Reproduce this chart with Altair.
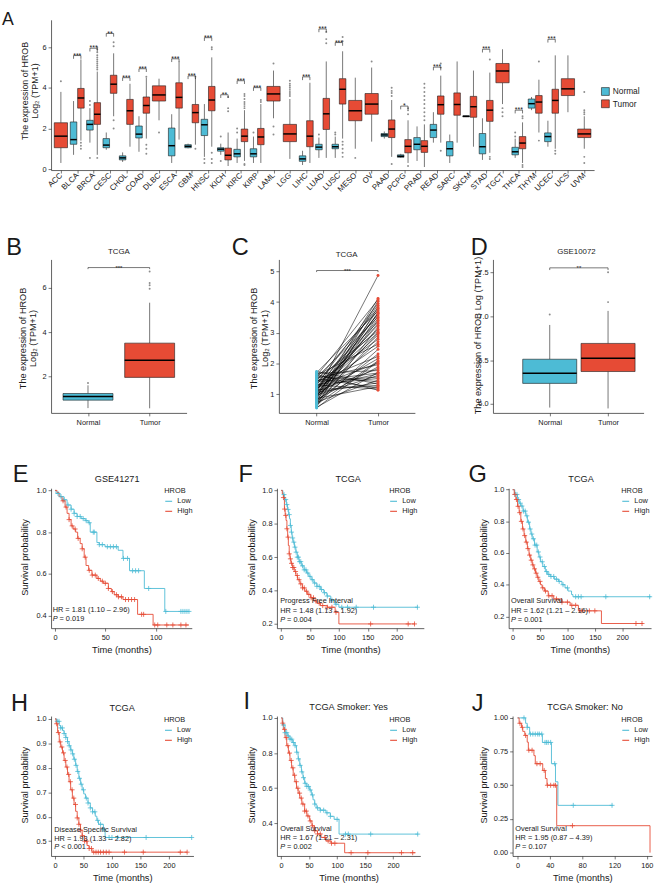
import altair as alt
import pandas as pd

FONT = "Liberation Sans"
NARROW = "Liberation Sans Narrow, Liberation Sans, Arial, sans-serif"
BLUE = "#4DBBD5"
RED = "#E64B35"
INK = "#1a1a1a"
CROSS = "M-1,0L1,0M0,-1L0,1"

# ---------------- Panel A : pan-cancer expression ----------------
CANCERS = ["ACC", "BLCA", "BRCA", "CESC", "CHOL", "COAD", "DLBC", "ESCA", "GBM", "HNSC",
           "KICH", "KIRC", "KIRP", "LAML", "LGG", "LIHC", "LUAD", "LUSC", "MESO", "OV",
           "PAAD", "PCPG", "PRAD", "READ", "SARC", "SKCM", "STAD", "TGCT", "THCA", "THYM",
           "UCEC", "UCS", "UVM"]
# [lower whisker, Q1, median, Q3, upper whisker]
NORMAL_STATS = {
    "BLCA": [0.70, 1.22, 1.45, 2.32, 3.35], "BRCA": [1.30, 1.92, 2.20, 2.40, 3.00],
    "CESC": [0.95, 1.05, 1.18, 1.50, 1.80], "CHOL": [0.35, 0.45, 0.55, 0.65, 0.82],
    "COAD": [0.85, 1.53, 1.72, 2.12, 2.60], "ESCA": [0.30, 0.65, 1.15, 2.02, 2.70],
    "GBM": [1.02, 1.05, 1.12, 1.20, 1.25], "HNSC": [0.60, 1.65, 2.18, 2.45, 3.20],
    "KICH": [0.70, 0.88, 0.98, 1.05, 1.25], "KIRC": [0.30, 0.60, 0.75, 0.97, 1.50],
    "KIRP": [0.30, 0.60, 0.75, 1.00, 1.60], "LIHC": [0.20, 0.38, 0.50, 0.65, 0.90],
    "LUAD": [0.55, 0.95, 1.08, 1.22, 1.55], "LUSC": [0.55, 1.00, 1.10, 1.22, 1.60],
    "PAAD": [1.50, 1.60, 1.68, 1.75, 1.85], "PCPG": [0.55, 0.58, 0.63, 0.70, 0.75],
    "PRAD": [0.40, 0.95, 1.22, 1.55, 2.10], "READ": [1.30, 1.55, 1.92, 2.20, 2.80],
    "SARC": [0.30, 0.65, 1.00, 1.35, 1.70], "SKCM": [2.56, 2.57, 2.60, 2.62, 2.63],
    "STAD": [0.45, 0.75, 1.10, 1.75, 2.50], "THCA": [0.55, 0.70, 0.85, 1.07, 1.50],
    "THYM": [2.90, 3.00, 3.22, 3.45, 3.55], "UCEC": [1.10, 1.35, 1.60, 1.78, 2.38],
}
TUMOR_STATS = {
    "ACC": [0.30, 1.05, 1.62, 2.28, 3.80], "BLCA": [1.40, 3.00, 3.50, 3.97, 5.40],
    "BRCA": [0.70, 2.20, 2.70, 3.27, 4.80], "CESC": [2.60, 3.73, 4.18, 4.62, 5.70],
    "CHOL": [1.10, 2.20, 2.87, 3.43, 4.20], "COAD": [1.50, 2.75, 3.13, 3.55, 4.50],
    "DLBC": [2.40, 3.35, 3.65, 4.10, 4.45], "ESCA": [1.45, 3.00, 3.53, 4.25, 5.30],
    "GBM": [1.20, 2.28, 2.78, 3.18, 4.50], "HNSC": [1.10, 2.87, 3.40, 4.07, 5.50],
    "KICH": [0.15, 0.45, 0.68, 1.03, 1.80], "KIRC": [0.40, 1.35, 1.62, 1.97, 2.90],
    "KIRP": [0.30, 1.20, 1.58, 2.00, 3.20], "LAML": [2.50, 3.35, 3.70, 4.07, 4.85],
    "LGG": [0.50, 1.35, 1.73, 2.20, 3.45], "LIHC": [0.30, 1.10, 1.62, 2.38, 4.25],
    "LUAD": [0.55, 1.95, 2.72, 3.48, 5.30], "LUSC": [1.50, 3.20, 3.93, 4.45, 5.80],
    "MESO": [1.00, 2.38, 2.87, 3.38, 4.50], "OV": [1.35, 2.70, 3.20, 3.72, 5.00],
    "PAAD": [0.60, 1.55, 1.97, 2.42, 3.40], "PCPG": [0.30, 0.80, 1.12, 1.45, 2.40],
    "PRAD": [0.10, 0.82, 1.12, 1.40, 2.20], "READ": [1.30, 2.70, 3.17, 3.60, 4.60],
    "SARC": [1.30, 2.65, 3.18, 3.75, 5.30], "SKCM": [1.10, 2.55, 3.07, 3.58, 4.85],
    "STAD": [0.80, 2.35, 2.90, 3.38, 4.75], "TGCT": [3.20, 4.25, 4.83, 5.20, 5.90],
    "THCA": [0.30, 1.00, 1.28, 1.60, 2.30], "THYM": [1.80, 2.75, 3.30, 3.62, 4.40],
    "UCEC": [1.00, 2.75, 3.38, 3.93, 5.60], "UCS": [2.80, 3.62, 3.95, 4.45, 5.60],
    "UVM": [1.00, 1.55, 1.73, 1.97, 2.60],
}
NORMAL_OUTLIERS = {
    "BRCA": [0.55, 3.15, 3.35], "HNSC": [0.30, 0.50], "KICH": [0.40, 1.60],
    "KIRC": [1.80, 2.00], "KIRP": [1.80], "LUAD": [1.70], "LUSC": [1.70, 1.80],
    "THCA": [1.60, 1.80],
}
TUMOR_OUTLIERS = {
    "ACC": [4.32], "BLCA": [1.00, 1.15, 1.30],
    "BRCA": [0.55, 4.9, 5.0, 5.1, 5.2, 5.3, 5.4, 5.5, 5.6, 5.75, 5.9, 6.0],
    "CESC": [2.00, 2.40, 6.05, 6.25], "COAD": [0.75, 1.00, 1.20, 4.55], "DLBC": [1.80],
    "GBM": [1.00, 4.55], "HNSC": [0.30, 0.50, 0.80, 5.90, 6.00], "KICH": [2.85, 3.00, 3.55],
    "KIRC": [0.20, 0.25, 3.0, 3.1, 3.2, 3.3, 3.45, 3.6, 3.7], "KIRP": [3.30, 3.40],
    "LAML": [1.70, 2.10, 5.20], "LGG": [3.6, 3.7, 3.8, 3.9, 4.0, 4.1, 4.2, 4.35],
    "LUAD": [6.20, 6.40, 6.75], "LUSC": [0.60, 0.80, 1.00, 1.20, 1.35, 6.30, 6.50],
    "MESO": [0.55], "OV": [5.30], "PAAD": [0.25, 3.60, 3.75, 3.85, 4.00],
    "PCPG": [0.15, 2.70, 2.90, 3.00],
    "PRAD": [2.4, 2.6, 2.8, 3.0, 3.2, 3.4, 3.6, 3.8, 4.0, 4.2], "READ": [0.90, 5.00, 5.20],
    "STAD": [0.50, 0.60, 5.40], "TGCT": [2.60, 2.80, 3.00], "THCA": [0.10, 0.20, 2.50, 2.60],
    "THYM": [1.40, 5.30], "UCEC": [0.75, 0.90], "UVM": [0.30, 0.60, 2.70, 2.80, 2.90, 3.80],
}
SIGNIF = {
    "BLCA": (5.59, "***"), "BRCA": (5.95, "***"), "CESC": (6.68, "**"), "CHOL": (4.50, "***"),
    "COAD": (4.94, "***"), "ESCA": (5.43, "***"), "GBM": (4.59, "***"), "HNSC": (6.47, "***"),
    "KICH": (3.66, "**"), "KIRC": (4.35, "***"), "KIRP": (4.01, "***"), "LIHC": (4.54, "***"),
    "LUAD": (6.90, "***"), "LUSC": (6.23, "***"), "PCPG": (3.10, "*"), "READ": (5.02, "***"),
    "STAD": (5.90, "***"), "THCA": (2.90, "***"), "UCEC": (6.39, "***"),
}

# ---------------- Panels B / C / D ----------------
GROUPS = ["Normal", "Tumor"]
B_STATS = {"Normal": [0.56, 0.92, 1.08, 1.22, 1.59], "Tumor": [0.55, 1.95, 2.73, 3.50, 5.33]}
B_OUTLIERS = {"Normal": [1.70], "Tumor": [5.96, 6.12, 6.22, 6.74]}
B_SIG = (6.92, "***")
C_NORMAL = [1.05, 0.90, 1.60, 0.75, 1.30, 1.12, 0.62, 1.45, 0.98, 1.70, 0.85, 1.20, 0.70, 1.55, 1.02,
            0.80, 1.38, 0.95, 1.15, 0.60, 1.25, 1.48, 0.88, 1.08, 0.72, 1.35, 0.92, 1.62, 1.18, 0.78,
            1.42, 1.00, 0.66, 1.28, 1.52, 0.83, 1.10, 1.68, 0.57, 1.22, 0.97, 1.40, 1.32, 0.74, 1.58,
            1.06, 1.74, 1.14, 0.86, 1.50, 1.30, 1.64, 0.68, 1.20, 0.94, 1.44, 0.55]
C_TUMOR = [4.87, 4.12, 4.08, 4.03, 3.96, 3.90, 3.84, 3.80, 3.75, 3.71, 3.66, 3.61, 3.56, 3.51, 3.46,
           3.41, 3.36, 3.31, 3.25, 3.19, 3.12, 3.06, 2.99, 2.93, 2.86, 2.79, 2.71, 2.63, 2.56, 2.31,
           2.23, 2.16, 2.09, 2.01, 1.96, 1.89, 1.83, 1.77, 1.71, 1.66, 1.61, 1.56, 1.51, 1.46, 1.41,
           1.37, 1.33, 1.29, 1.25, 1.21, 1.17, 1.13, 2.46, 3.01, 3.63, 1.69, 2.06]
C_SIG = (5.03, "***")
D_STATS = {"Normal": [5.96, 6.235, 6.35, 6.51, 6.90], "Tumor": [5.95, 6.37, 6.52, 6.69, 7.06]}
D_OUTLIERS = {"Normal": [7.02], "Tumor": [7.16, 7.50]}
D_SIG = (7.55, "**")

# ---------------- Survival panels (time in months, survival probability) ----------------
E_LOW = [(0, 1.0), (1, 0.985), (5, 0.97), (9, 0.955), (12, 0.93), (16, 0.91), (19, 0.89), (22, 0.875),
         (26, 0.865), (30, 0.855), (33, 0.845), (35, 0.80), (41.6, 0.75), (44, 0.74), (49.7, 0.73),
         (62.7, 0.713), (67.5, 0.674), (74, 0.615), (88.7, 0.53), (109, 0.42), (133, 0.42)]
E_HIGH = [(0, 1.0), (2, 0.99), (4, 0.97), (7, 0.95), (10, 0.92), (12, 0.89), (14, 0.86), (16, 0.83),
          (18, 0.815), (20.5, 0.80), (22.5, 0.77), (25, 0.745), (27, 0.72), (29, 0.68), (30.8, 0.64),
          (33.4, 0.617), (36.7, 0.594), (41.6, 0.578), (45, 0.565), (48, 0.555), (53, 0.53), (56, 0.515),
          (58.8, 0.50), (62.7, 0.49), (67.5, 0.477), (82, 0.406), (97.4, 0.355), (133, 0.355)]
E_LOW_CENS = [3, 6, 9, 13, 16, 19, 22, 25, 28, 31, 34, 38, 39, 44, 47, 52, 55, 58, 61, 68, 72, 77, 80,
              83, 93, 110, 125, 127, 129, 131, 133]
E_HIGH_CENS = [8, 11, 14, 17, 20, 23, 27, 30, 34, 37, 40, 43, 47, 50, 53, 57, 61, 63, 66, 70, 73, 76,
               79, 86, 88, 99, 102, 111, 117, 125, 130]

F_LOW = [(0, 1.0), (3, 0.975), (6, 0.945), (9, 0.915), (11, 0.886), (13, 0.855), (14.5, 0.83), (16, 0.79),
         (17.5, 0.75), (19, 0.715), (20.5, 0.69), (23, 0.66), (25.5, 0.63), (28, 0.60), (31, 0.573),
         (35, 0.548), (39.7, 0.524), (44, 0.505), (48, 0.485), (52, 0.465), (56.7, 0.445), (62, 0.425),
         (68, 0.406), (74, 0.387), (79.4, 0.367), (86, 0.342), (93.5, 0.318), (100, 0.30), (237, 0.30)]
F_HIGH = [(0, 1.0), (2, 0.98), (3.9, 0.957), (5.7, 0.888), (7, 0.85), (8.5, 0.82), (10, 0.77), (11.3, 0.72),
          (12.5, 0.67), (14, 0.62), (15.5, 0.59), (17, 0.563), (20, 0.538), (22.7, 0.514), (25.5, 0.49),
          (28.3, 0.465), (32.5, 0.44), (36.8, 0.416), (41, 0.396), (45.4, 0.377), (51, 0.357),
          (56.7, 0.338), (62, 0.324), (68, 0.31), (80, 0.30), (93.5, 0.27), (100, 0.20), (232, 0.20)]
F_LOW_CENS = [5, 8, 10, 12, 14, 16, 18, 20, 22, 24, 26, 28, 30, 32, 34, 37, 40, 43, 46, 50, 54, 58, 62,
              66, 70, 75, 80, 88, 95, 105, 115, 130, 160, 236]
F_HIGH_CENS = [4, 6, 8, 10, 12, 14, 16, 18, 20, 22, 25, 28, 31, 34, 37, 40, 44, 48, 52, 56, 60, 66, 72,
               80, 88, 95, 155, 220, 231]

G_LOW = [(0, 1.0), (4, 0.97), (9, 0.938), (12, 0.915), (15, 0.897), (19, 0.865), (24, 0.835), (27, 0.795),
         (31, 0.752), (33.5, 0.72), (35.8, 0.69), (40, 0.65), (44.8, 0.607), (48, 0.575), (50.8, 0.545),
         (55, 0.515), (59.7, 0.483), (64, 0.465), (68.7, 0.452), (76, 0.435), (83.6, 0.421), (90, 0.40),
         (95.6, 0.38), (101, 0.36), (107.5, 0.338), (110, 0.324), (252, 0.324)]
G_HIGH = [(0, 1.0), (3, 0.97), (6, 0.938), (9, 0.895), (12, 0.855), (15, 0.80), (18, 0.752), (21, 0.71),
          (24, 0.669), (27, 0.628), (30, 0.587), (33, 0.555), (35.8, 0.525), (38.8, 0.50), (41.8, 0.473),
          (44.8, 0.447), (47.8, 0.421), (50.8, 0.40), (53.8, 0.38), (58, 0.36), (65, 0.33), (75, 0.31),
          (90, 0.29), (105, 0.27), (120, 0.235), (162, 0.155), (238, 0.155)]
G_LOW_CENS = [5, 8, 11, 14, 17, 20, 23, 26, 29, 32, 35, 38, 41, 44, 47, 50, 54, 58, 62, 66, 70, 75, 80,
              85, 92, 100, 115, 120, 125, 170, 250]
G_HIGH_CENS = [4, 7, 10, 13, 16, 19, 22, 25, 28, 31, 34, 37, 40, 43, 46, 50, 55, 60, 66, 72, 80, 90,
               100, 108, 115, 125, 140, 150, 225, 236]

H_LOW = [(0, 1.0), (3, 0.99), (7.5, 0.973), (10, 0.963), (13.2, 0.953), (16, 0.94), (19, 0.924),
         (22, 0.907), (24.7, 0.89), (27.5, 0.873), (30.5, 0.857), (33, 0.835), (36.2, 0.81), (39, 0.785),
         (41.9, 0.757), (45, 0.733), (47.7, 0.71), (50.5, 0.693), (53.5, 0.676), (58, 0.656), (62, 0.636),
         (66, 0.62), (70.7, 0.602), (73.5, 0.585), (76.4, 0.569), (85, 0.549), (88, 0.515), (240, 0.515)]
H_HIGH = [(0, 1.0), (2, 0.98), (4.6, 0.944), (7.5, 0.906), (10, 0.885), (13.2, 0.861), (16, 0.83),
          (19, 0.803), (22, 0.773), (24.7, 0.743), (27.5, 0.71), (30.5, 0.676), (33.5, 0.65), (36.2, 0.622),
          (39, 0.595), (41.9, 0.569), (44.8, 0.545), (47.7, 0.522), (52, 0.50), (56.3, 0.482), (60, 0.47),
          (65, 0.455), (232, 0.455)]
H_LOW_CENS = [4, 7, 10, 13, 16, 19, 22, 25, 28, 31, 34, 37, 40, 43, 46, 50, 55, 58, 62, 66, 70, 75, 80,
              85, 95, 100, 110, 160, 240]
H_HIGH_CENS = [3, 6, 9, 12, 15, 18, 21, 24, 27, 30, 33, 36, 39, 42, 45, 48, 52, 56, 60, 64, 68, 72, 76,
               80, 85, 90, 95, 122, 155, 220, 232]

I_LOW = [(0, 1.0), (3, 0.96), (7, 0.916), (11, 0.897), (15.8, 0.879), (20, 0.86), (24.6, 0.842),
         (27.5, 0.805), (30.4, 0.767), (33.3, 0.73), (36.3, 0.693), (39, 0.66), (42, 0.628), (46, 0.61),
         (51, 0.59), (54, 0.562), (57, 0.534), (60, 0.51), (62.6, 0.488), (70, 0.475), (80, 0.46),
         (88, 0.44), (94.7, 0.423), (103.5, 0.339), (245, 0.339)]
I_HIGH = [(0, 1.0), (2, 0.97), (4, 0.935), (7, 0.888), (10, 0.842), (13, 0.80), (15.8, 0.758),
          (18.7, 0.716), (21.6, 0.674), (24.5, 0.637), (27.5, 0.60), (30.4, 0.572), (33.3, 0.544),
          (37, 0.51), (42, 0.47), (46, 0.442), (51, 0.414), (55, 0.386), (59.7, 0.358), (65, 0.34),
          (71.4, 0.32), (80, 0.30), (89, 0.287), (113.5, 0.233), (240, 0.233)]
I_LOW_CENS = [4, 7, 10, 13, 16, 19, 22, 25, 28, 31, 34, 37, 40, 43, 46, 49, 52, 56, 60, 65, 70, 76, 82,
              88, 100, 115, 120, 160, 244]
I_HIGH_CENS = [3, 6, 9, 12, 15, 18, 21, 24, 27, 30, 33, 36, 39, 42, 45, 48, 52, 56, 60, 65, 70, 78, 84,
               90, 96, 125, 155, 215, 235]

J_LOW = [(0, 1.0), (10, 0.96), (12, 0.93), (15, 0.88), (30.8, 0.818), (42, 0.66), (47, 0.526),
         (50, 0.351), (118, 0.351)]
J_HIGH = [(0, 1.0), (2, 0.96), (5, 0.93), (6.5, 0.90), (9, 0.87), (12, 0.82), (13.4, 0.76), (20.3, 0.72),
          (22, 0.66), (31.2, 0.61), (34.5, 0.55), (36.5, 0.50), (48.5, 0.20), (164, 0.0)]
J_LOW_CENS = [8, 12, 16, 19, 22, 25, 27, 30, 34, 36, 38, 41, 46, 69, 117]
J_HIGH_CENS = [3, 6, 10, 14, 18, 24, 28, 33, 37, 41, 45, 47, 68]


# ====================== helpers ======================
def one():
    return alt.Data(values=[{"k": 1}])


def cell(x1, x2, y1, y2):
    # invisible frame that fixes the panel's footprint in the figure grid
    return alt.Chart(one()).mark_rect(opacity=0).encode(
        x=alt.value(x1), x2=alt.value(x2), y=alt.value(y1), y2=alt.value(y2))


def txt(text, x, y, size, font=FONT, align="left", baseline="middle", italic=False, dy=0):
    return alt.Chart(one()).mark_text(
        text=text, align=align, baseline=baseline, font=font, fontSize=size,
        fontStyle="italic" if italic else "normal", color=INK, dy=dy
    ).encode(x=alt.value(x), y=alt.value(y))


def base_axis(**kw):
    d = dict(grid=False, tickSize=3, tickColor=INK, tickWidth=0.6, domainColor=INK, domainWidth=0.7,
             labelColor=INK, labelOverlap=False, labelFlush=False, titleColor=INK,
             titleFontWeight="normal")
    d.update(kw)
    return alt.Axis(**d)


def box_frame(stats, outliers, positions, half):
    rows, outs = [], []
    for key, xc in positions:
        if key not in stats:
            continue
        lo, q1, med, q3, hi = stats[key]
        rows.append(dict(key=key, xc=xc, xl=xc - half, xr=xc + half,
                         lo=lo, q1=q1, med=med, q3=q3, hi=hi))
        for v in outliers.get(key, []):
            outs.append(dict(key=key, xc=xc, v=v))
    return pd.DataFrame(rows), pd.DataFrame(outs, columns=["key", "xc", "v"])


def box_layers(bdf, odf, group_field, xs, ys, ax_x, ax_y, cscale, legend, med_w=1.6, out_size=3):
    X = lambda f: alt.X(f, type="quantitative", scale=xs, axis=ax_x)
    Y = lambda f: alt.Y(f, type="quantitative", scale=ys, axis=ax_y)
    layers = [
        alt.Chart(bdf).mark_rule(color=INK, strokeWidth=0.6).encode(x=X("xc"), y=Y("lo"), y2="q1"),
        alt.Chart(bdf).mark_rule(color=INK, strokeWidth=0.6).encode(x=X("xc"), y=Y("q3"), y2="hi"),
        alt.Chart(bdf).mark_rect(stroke=INK, strokeWidth=0.6).encode(
            x=X("xl"), x2="xr", y=Y("q1"), y2="q3",
            color=alt.Color(group_field, type="nominal", scale=cscale, legend=legend)),
        alt.Chart(bdf).mark_rule(color="#000000", strokeWidth=med_w).encode(x=X("xl"), x2="xr", y=Y("med")),
    ]
    if len(odf):
        layers.append(alt.Chart(odf).mark_circle(size=out_size, color="#8c8c8c", opacity=1).encode(
            x=X("xc"), y=Y("v")))
    return layers


def bracket_layers(sdf, xs, ys, ax_x, ax_y, tip, size):
    X = lambda f: alt.X(f, type="quantitative", scale=xs, axis=ax_x)
    Y = lambda f: alt.Y(f, type="quantitative", scale=ys, axis=ax_y)
    sdf = sdf.copy()
    sdf["tip"] = sdf["y"] - tip
    return [
        alt.Chart(sdf).mark_rule(color=INK, strokeWidth=0.6).encode(x=X("xl"), x2="xr", y=Y("y")),
        alt.Chart(sdf).mark_rule(color=INK, strokeWidth=0.6).encode(x=X("xl"), y=Y("y"), y2="tip"),
        alt.Chart(sdf).mark_rule(color=INK, strokeWidth=0.6).encode(x=X("xr"), y=Y("y"), y2="tip"),
        alt.Chart(sdf).mark_text(fontSize=size, font=FONT, color=INK, baseline="alphabetic", dy=2.2).encode(
            x=X("xm"), y=Y("y"), text="lab:N"),
    ]


GROUP_SCALE = alt.Scale(domain=GROUPS, range=[BLUE, RED])

# ====================== Panel A ======================
A_W, A_H = 553, 153
xsA = alt.Scale(domain=[-0.6, 32.6], nice=False, zero=False)
ysA = alt.Scale(domain=[-0.05, 7.35], nice=False, zero=False)
label_expr_A = "[" + ",".join("'%s'" % c for c in CANCERS) + "][datum.value]"
axAx = base_axis(values=list(range(len(CANCERS))), labelExpr=label_expr_A, labelAngle=315,
                 labelAlign="right", labelBaseline="middle", labelFont=FONT, labelFontSize=8,
                 labelPadding=1, title=None)
axAy = base_axis(values=[0, 2, 4, 6], format="d", labelFont=FONT, labelFontSize=7.5,
                 title=["The expression of HROB", "Log\u2082 (TPM+1)"], titleFont=FONT, titleFontSize=9,
                 titleX=-27, titleY=72, titleAngle=270, titleAlign="center", titleBaseline="middle",
                 titleLineHeight=10.5)

rowsA, outsA = [], []
for i, c in enumerate(CANCERS):
    paired = c in NORMAL_STATS
    for grp, stats, outl in (("Normal", NORMAL_STATS, NORMAL_OUTLIERS), ("Tumor", TUMOR_STATS, TUMOR_OUTLIERS)):
        if c not in stats:
            continue
        xc = (i - 0.225 if grp == "Normal" else i + 0.225) if paired else i
        half = 0.2 if paired else 0.405
        lo, q1, med, q3, hi = stats[c]
        rowsA.append(dict(cancer=c, grp=grp, xc=xc, xl=xc - half, xr=xc + half,
                          lo=lo, q1=q1, med=med, q3=q3, hi=hi))
        for v in outl.get(c, []):
            outsA.append(dict(cancer=c, grp=grp, xc=xc, v=v))
dfA = pd.DataFrame(rowsA)
dfAo = pd.DataFrame(outsA)
sigA = pd.DataFrame([dict(xl=CANCERS.index(c) - 0.225, xr=CANCERS.index(c) + 0.225,
                          xm=CANCERS.index(c), y=v[0], lab=v[1]) for c, v in SIGNIF.items()])

legendA = alt.Legend(orient="none", legendX=560, legendY=68.5, title=None, symbolType="square",
                     symbolSize=64, symbolStrokeColor=INK, symbolStrokeWidth=0.6, labelFont=FONT,
                     labelFontSize=8.5, labelColor=INK, rowPadding=1.5, labelOffset=3, padding=0)
panelA = alt.layer(
    cell(-52, 602, -12, 193),
    *box_layers(dfA, dfAo, "grp", xsA, ysA, axAx, axAy, GROUP_SCALE, legendA, med_w=1.5, out_size=4),
    *bracket_layers(sigA, xsA, ysA, axAx, axAy, tip=0.16, size=7),
    txt("A", -50, 5, 18, baseline="alphabetic"),
).properties(width=A_W, height=A_H)


# ====================== Panels B, C, D ======================
def xaxis_groups():
    return base_axis(values=[1, 2], labelExpr="['', '" + "', '".join(GROUPS) + "'][datum.value]",
                     labelFont=NARROW, labelFontSize=7.5, labelPadding=3, title=None)


def yaxis_bcd(values, fmt, title, tx, ty):
    return base_axis(values=values, format=fmt, labelFont=NARROW, labelFontSize=7.5, title=title,
                     titleFont=FONT, titleFontSize=9.3, titleX=tx, titleY=ty, titleAngle=270,
                     titleAlign="center", titleBaseline="middle", titleLineHeight=10.5)


H_ROW2 = 156.3
# B
xsB = alt.Scale(domain=[0.401, 2.599], nice=False, zero=False)
ysB = alt.Scale(domain=[0.342, 7.289], nice=False, zero=False)
axBx = xaxis_groups()
axBy = yaxis_bcd([2, 4, 6], "d", ["The expression of HROB", "Log\u2082 (TPM+1)"], -29.2, 80)
bB, oB = box_frame(B_STATS, B_OUTLIERS, [(g, i + 1) for i, g in enumerate(GROUPS)], 0.405)
sigB = pd.DataFrame([dict(xl=1, xr=2, xm=1.5, y=B_SIG[0], lab=B_SIG[1])])
panelB = alt.layer(
    cell(-49, 183, -51, 189),
    *box_layers(bB, oB, "key", xsB, ysB, axBx, axBy, GROUP_SCALE, None, med_w=1.5, out_size=4),
    *bracket_layers(sigB, xsB, ysB, axBx, axBy, tip=0.07, size=6),
    txt("TCGA", 69, -7.7, 8, font=NARROW, align="center"),
    txt("B", -45.7, -4.3, 24, baseline="alphabetic"),
).properties(width=138, height=H_ROW2)

# C
xsC = alt.Scale(domain=[0.386, 2.6], nice=False, zero=False)
ysC = alt.Scale(domain=[0.39, 5.392], nice=False, zero=False)
axCx = xaxis_groups()
axCy = yaxis_bcd([1, 2, 3, 4, 5], "d", ["The expression of HROB", "Log\u2082 (TPM+1)"], -25.5, 80)
pairs = []
for k, (n, t) in enumerate(zip(C_NORMAL, C_TUMOR)):
    pairs.append(dict(pair=k, pos=1, v=n, grp="Normal"))
    pairs.append(dict(pair=k, pos=2, v=t, grp="Tumor"))
dfC = pd.DataFrame(pairs)
sigC = pd.DataFrame([dict(xl=1, xr=2, xm=1.5, y=C_SIG[0], lab=C_SIG[1])])
XC = alt.X("pos:Q", scale=xsC, axis=axCx)
YC = alt.Y("v:Q", scale=ysC, axis=axCy)
panelC = alt.layer(
    cell(-47.5, 188.5, -51, 189),
    alt.Chart(dfC).mark_line(color="#000000", strokeWidth=0.55).encode(x=XC, y=YC, detail="pair:N"),
    alt.Chart(dfC).mark_circle(size=9, opacity=1).encode(
        x=XC, y=YC, color=alt.Color("grp:N", scale=GROUP_SCALE, legend=None)),
    *bracket_layers(sigC, xsC, ysC, axCx, axCy, tip=0.05, size=6),
    txt("TCGA", 69, -4.3, 8, font=NARROW, align="center"),
    txt("C", -48.1, -4.3, 24, baseline="alphabetic"),
).properties(width=138.5, height=H_ROW2)

# D
xsD = alt.Scale(domain=[0.027, 2.609], nice=False, zero=False)
ysD = alt.Scale(domain=[5.899, 7.646], nice=False, zero=False)
axDx = xaxis_groups()
axDy = yaxis_bcd([6.0, 6.5, 7.0, 7.5], ".1f", "The expression of HROB Log (TPM+1)", -15.6, 77)
bD, oD = box_frame(D_STATS, D_OUTLIERS, [(g, i + 1) for i, g in enumerate(GROUPS)], 0.463)
sigD = pd.DataFrame([dict(xl=1, xr=2, xm=1.5, y=D_SIG[0], lab=D_SIG[1])])
panelD = alt.layer(
    cell(-28.6, 157.4, -51, 189),
    *box_layers(bD, oD, "key", xsD, ysD, axDx, axDy, GROUP_SCALE, None, med_w=1.5, out_size=4),
    *bracket_layers(sigD, xsD, ysD, axDx, axDy, tip=0.025, size=6),
    txt("GSE10072", 85, -7.7, 8, font=NARROW, align="center"),
    txt("D", -22.6, -4.3, 24, baseline="alphabetic"),
).properties(width=153.4, height=H_ROW2)


# ====================== Survival panels ======================
def surv_at(steps, t):
    val = steps[0][1]
    for tt, ss in steps:
        if tt <= t:
            val = ss
        else:
            break
    return val


SURV_SCALE = alt.Scale(domain=["Low", "High"], range=[BLUE, RED])


def surv_panel(low, high, low_c, high_c, w, h, xdom, ydom, xticks, yticks, yfmt, ytx,
               legx, legy, title, title_xy, notes, ptext, letter, letter_xy, box):
    lines = [dict(t=t, s=s, grp="Low") for t, s in low] + [dict(t=t, s=s, grp="High") for t, s in high]
    cens = [dict(t=t, s=surv_at(low, t), grp="Low") for t in low_c] + \
           [dict(t=t, s=surv_at(high, t), grp="High") for t in high_c]
    dl, dc = pd.DataFrame(lines), pd.DataFrame(cens)
    xs = alt.Scale(domain=xdom, nice=False, zero=False)
    ys = alt.Scale(domain=ydom, nice=False, zero=False)
    axx = base_axis(values=xticks, format="d", labelFont=FONT, labelFontSize=7.5, labelPadding=3,
                    title="Time (months)", titleFont=FONT, titleFontSize=9.5, titleX=w / 2, titleY=21.8,
                    titleAlign="center", titleBaseline="middle")
    axy = base_axis(values=yticks, format=yfmt, labelFont=FONT, labelFontSize=7.5,
                    title="Survival probability", titleFont=FONT, titleFontSize=9.3, titleX=ytx,
                    titleY=70, titleAngle=270, titleAlign="center", titleBaseline="middle")
    X = alt.X("t:Q", scale=xs, axis=axx)
    Y = alt.Y("s:Q", scale=ys, axis=axy)
    leg = alt.Legend(title="HROB", orient="none", legendX=legx, legendY=legy, symbolType="stroke",
                     symbolSize=49, symbolStrokeWidth=1.1, labelFont=FONT, labelFontSize=7.5,
                     labelColor=INK, titleFont=FONT, titleFontSize=7.5, titleFontWeight="normal",
                     titleColor=INK, titlePadding=2.5, rowPadding=2.2, labelOffset=4.3, padding=0)
    layers = [
        cell(*box),
        alt.Chart(dl).mark_line(interpolate="step-after", strokeWidth=0.9).encode(
            x=X, y=Y, color=alt.Color("grp:N", scale=SURV_SCALE, legend=leg)),
        alt.Chart(dc).mark_point(shape=CROSS, filled=False, size=26, strokeWidth=0.8, opacity=1).encode(
            x=X, y=Y, color=alt.Color("grp:N", scale=SURV_SCALE, legend=None)),
        txt(title, title_xy[0], title_xy[1], 9.3, align="center"),
        txt(letter, letter_xy[0], letter_xy[1], 24, baseline="alphabetic"),
    ]
    for text, nx, ny in notes:
        layers.append(txt(text, nx, ny, 7.5))
    px, py, ptxt = ptext
    layers.append(txt("P", px, py, 7.5, italic=True))
    layers.append(txt(ptxt, px + 7, py, 7.5))
    return alt.layer(*layers).properties(width=w, height=h)


H3 = 142.5
panelE = surv_panel(E_LOW, E_HIGH, E_LOW_CENS, E_HIGH_CENS, 143.3, H3, [-3.9, 135.8], [0.3398, 1.0104],
                    [0, 50, 100], [0.4, 0.6, 0.8, 1.0], ".1f", -26.7, 115.3, -1.2,
                    "GSE41271", (67.3, -9.2), [("HR = 1.81 (1.10 \u2013 2.96)", 1.6, 124)],
                    (1.6, 133.2, "= 0.019"), "E", (-39, -6.8), (-41.7, 186.3, -43.5, 181.5))
panelF = surv_panel(F_LOW, F_HIGH, F_LOW_CENS, F_HIGH_CENS, 149.6, H3, [-7.3, 247.1], [0.1747, 1.013],
                    [0, 50, 100, 150, 200], [0.2, 0.4, 0.6, 0.8, 1.0], ".1f", -25.7, 114.3, -1.2,
                    "TCGA", (72.6, -9.2),
                    [("Progress Free Interval", 3.3, 114.8), ("HR = 1.48 (1.13 \u2013 1.92)", 3.3, 124.8)],
                    (3.3, 134.5, "= 0.004"), "F", (-39, -6.8), (-42.7, 191.3, -43.5, 181.5))
panelG = surv_panel(G_LOW, G_HIGH, G_LOW_CENS, G_HIGH_CENS, 145, H3, [-7.16, 252.5], [0.1256, 1.0093],
                    [0, 50, 100, 150, 200], [0.2, 0.4, 0.6, 0.8, 1.0], ".1f", -26, 114.7, -1.2,
                    "TCGA", (73.7, -9.2),
                    [("Overall Survival", 2.3, 114.8), ("HR = 1.62 (1.21 \u2013 2.16)", 2.3, 124.8)],
                    (2.3, 134.5, "= 0.001"), "G", (-41, -6.8), (-44, 148, -43.5, 181.5))

panelH = surv_panel(H_LOW, H_HIGH, H_LOW_CENS, H_HIGH_CENS, 145, H3, [-6.9, 243.1], [0.4394, 1.0116],
                    [0, 50, 100, 150, 200], [0.5, 0.6, 0.7, 0.8, 0.9, 1.0], ".1f", -26.7, 115, 0,
                    "TCGA", (72.3, -8.1),
                    [("Disease Specific Survival", 3.3, 115.9), ("HR = 1.93 (1.33 \u2013 2.82)", 3.3, 125.2)],
                    (3.3, 133.5, "< 0.001"), "H", (-40.7, -4.8), (-41.7, 186.3, -49.8, 170.2))
panelI = surv_panel(I_LOW, I_HIGH, I_LOW_CENS, I_HIGH_CENS, 146, H3, [-7.5, 248.6], [0.2145, 1.0106],
                    [0, 50, 100, 150, 200], [0.4, 0.6, 0.8, 1.0], ".1f", -25.7, 114.3, 0,
                    "TCGA  Smoker: Yes", (73, -9.1),
                    [("Overall Survival", 3.3, 115.2), ("HR = 1.67 (1.21 \u2013 2.31)", 3.3, 124.5)],
                    (3.3, 133.5, "= 0.002"), "I", (-34, -6.8), (-42.7, 191.3, -49.8, 170.2))
panelJ = surv_panel(J_LOW, J_HIGH, J_LOW_CENS, J_HIGH_CENS, 142, H3, [-6.1, 166.5], [-0.0248, 1.0138],
                    [0, 40, 80, 120, 160], [0.0, 0.25, 0.5, 0.75, 1.0], ".2f", -29.3, 110.7, 0,
                    "TCGA  Smoker: No", (73.8, -9.1),
                    [("Overall Survival", 2.7, 115.2), ("HR = 1.95 (0.87 \u2013 4.39)", 2.7, 124.2)],
                    (2.7, 133.5, "= 0.107"), "J", (-41.7, -4.8), (-48, 144, -49.8, 170.2))


def row(*panels):
    return alt.hconcat(*panels, spacing=0, bounds="full").resolve_scale(
        color="independent").resolve_legend(color="independent")


row2 = row(panelB, panelC, panelD)
row3 = row(panelE, panelF, panelG)
row4 = row(panelH, panelI, panelJ)

chart = alt.vconcat(panelA, row2, row3, row4, spacing=0, bounds="full").resolve_scale(
    color="independent").resolve_legend(color="independent").properties(
    padding=0, background="white"
).configure_view(stroke=None)

chart.save("out.html", embed_options={"renderer": "svg", "actions": False})
